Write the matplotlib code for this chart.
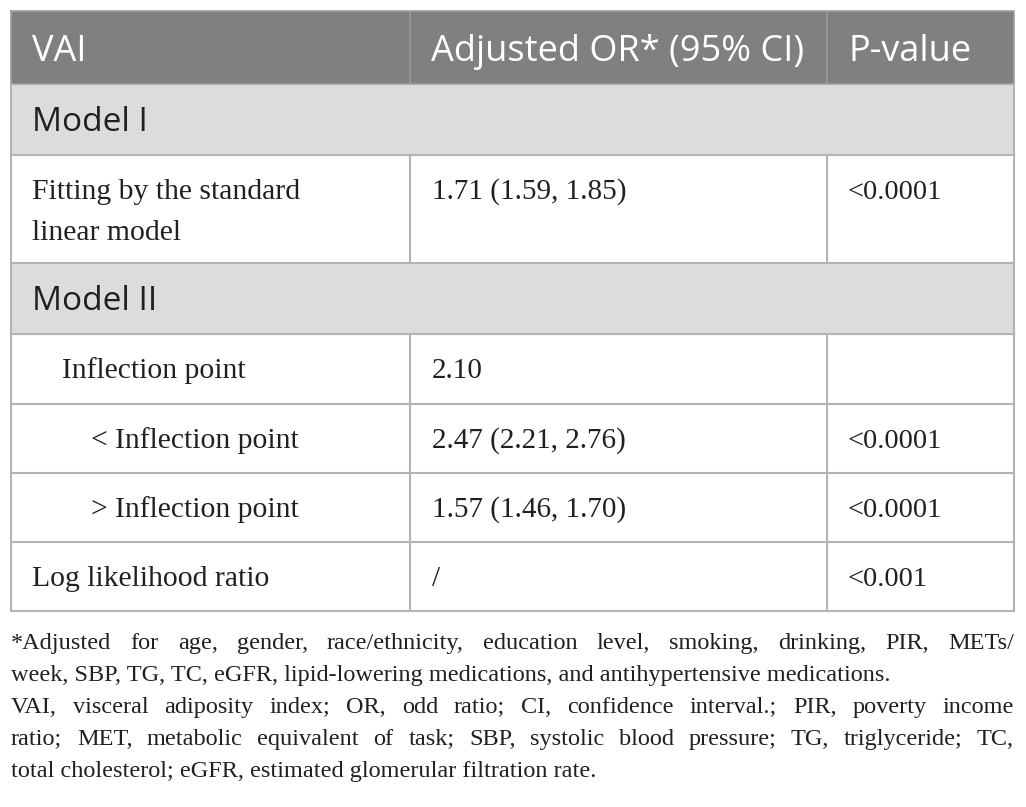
import matplotlib
matplotlib.use('Agg')
import matplotlib.pyplot as plt
from matplotlib.patches import Rectangle
import numpy as np

# table content
headers = ['VAI', 'Adjusted OR* (95% CI)', 'P-value']
sections = ['Model I', 'Model II']
row_labels = [['Fitting by the standard', 'linear model'],
              ['Inflection point'],
              ['< Inflection point'],
              ['> Inflection point'],
              ['Log likelihood ratio']]
row_section = [0, 1, 1, 1, 1]
row_indent = [0, 1, 2, 2, 0]
or_values = ['1.71 (1.59, 1.85)', '2.10', '2.47 (2.21, 2.76)', '1.57 (1.46, 1.70)', '/']
p_values = ['<0.0001', '', '<0.0001', '<0.0001', '<0.001']

footnote_lines = [
    ('*Adjusted for age, gender, race/ethnicity, education level, smoking, drinking, PIR, METs/', True),
    ('week, SBP, TG, TC, eGFR, lipid-lowering medications, and antihypertensive medications.', False),
    ('VAI, visceral adiposity index; OR, odd ratio; CI, confidence interval.; PIR, poverty income', True),
    ('ratio; MET, metabolic equivalent of task; SBP, systolic blood pressure; TG, triglyceride; TC,', True),
    ('total cholesterol; eGFR, estimated glomerular filtration rate.', False),
]

W, H = 1026, 807
sans = 'Open Sans'
serif = 'Liberation Serif'
txt_col = '#231f20'
line_col = '#b4b4b4'
hdr_bg = '#808080'
sec_bg = '#dcdcdc'
fn_size = 17.5


def ink_top(s):
    f = plt.figure(figsize=(2, 1), dpi=100)
    f.text(0.1, 0.5, s, fontsize=fn_size, family=serif, va='baseline')
    f.canvas.draw()
    a = np.asarray(f.canvas.buffer_rgba())[:, :, 0]
    plt.close(f)
    return np.where((a < 128).any(axis=1))[0][0]


# Agg draws a word whose only descender is ';' a few pixels too low
semi_shift = ink_top('d;') - ink_top('d,')

fig = plt.figure(figsize=(W / 100, H / 100), dpi=100)
ax = fig.add_axes([0, 0, 1, 1])
ax.set_xlim(0, W)
ax.set_ylim(H, 0)
ax.axis('off')

x_left, x_right = 11, 1014
col_x = [11, 410, 827, 1014]
pad = 21

header_h = 73
section_h = 71
row_h = [108, 70, 69, 69, 69]

# header
y = 11
ax.add_patch(Rectangle((x_left, y), x_right - x_left, header_h, fc=hdr_bg, ec='none'))
for i, h in enumerate(headers):
    ax.text(col_x[i] + pad, y + 50, h, fontsize=26, family=sans, color='white', va='baseline')
for cx in col_x[1:3]:
    ax.plot([cx, cx], [y, y + header_h], color='#9a9a9a', lw=1.2)
ax.plot([x_left, x_right, x_right, x_left, x_left], [y, y, y + header_h, y + header_h, y],
        color='#a0a0a0', lw=1.2)
y += header_h

last_section = -1
for r in range(len(row_labels)):
    if row_section[r] != last_section:
        last_section = row_section[r]
        ax.add_patch(Rectangle((x_left, y), x_right - x_left, section_h, fc=sec_bg, ec='none'))
        ax.text(col_x[0] + pad, y + 47, sections[last_section], fontsize=24, family=sans,
                color=txt_col, va='baseline')
        ax.plot([x_left, x_right], [y + section_h, y + section_h], color=line_col, lw=1.5)
        ax.plot([x_left, x_left], [y, y + section_h], color=line_col, lw=1.5)
        ax.plot([x_right, x_right], [y, y + section_h], color=line_col, lw=1.5)
        y += section_h
    h = row_h[r]
    base = y + 44
    for k, line in enumerate(row_labels[r]):
        ax.text(col_x[0] + pad + 29.5 * row_indent[r], base + 41 * k, line, fontsize=21.3,
                family=serif, color=txt_col, va='baseline')
    ax.text(col_x[1] + pad + 1, base, or_values[r], fontsize=21, family=serif, color=txt_col,
            va='baseline')
    ax.text(col_x[2] + pad, base, p_values[r], fontsize=20.5, family=serif, color=txt_col,
            va='baseline')
    for cx in col_x:
        ax.plot([cx, cx], [y, y + h], color=line_col, lw=1.5)
    ax.plot([x_left, x_right], [y + h, y + h], color=line_col, lw=1.5)
    y += h

# footnote, justified
fig.canvas.draw()
renderer = fig.canvas.get_renderer()
base = 649
for line, justify in footnote_lines:
    if not justify:
        ax.text(x_left, base, line, fontsize=fn_size, family=serif, color=txt_col, va='baseline')
    else:
        words = line.split(' ')
        objs = []
        for w in words:
            dy = 0
            if ';' in w and not any(c in w for c in 'gjpqy,()'):
                dy = semi_shift
            objs.append(ax.text(0, base - dy, w, fontsize=fn_size, family=serif, color=txt_col,
                                va='baseline'))
        widths = [o.get_window_extent(renderer).width for o in objs]
        gap = (x_right - x_left - sum(widths)) / (len(words) - 1)
        x = x_left
        for o, w in zip(objs, widths):
            o.set_x(x)
            x += w + gap
    base += 32

fig.savefig('out.png', dpi=100, facecolor='white')
